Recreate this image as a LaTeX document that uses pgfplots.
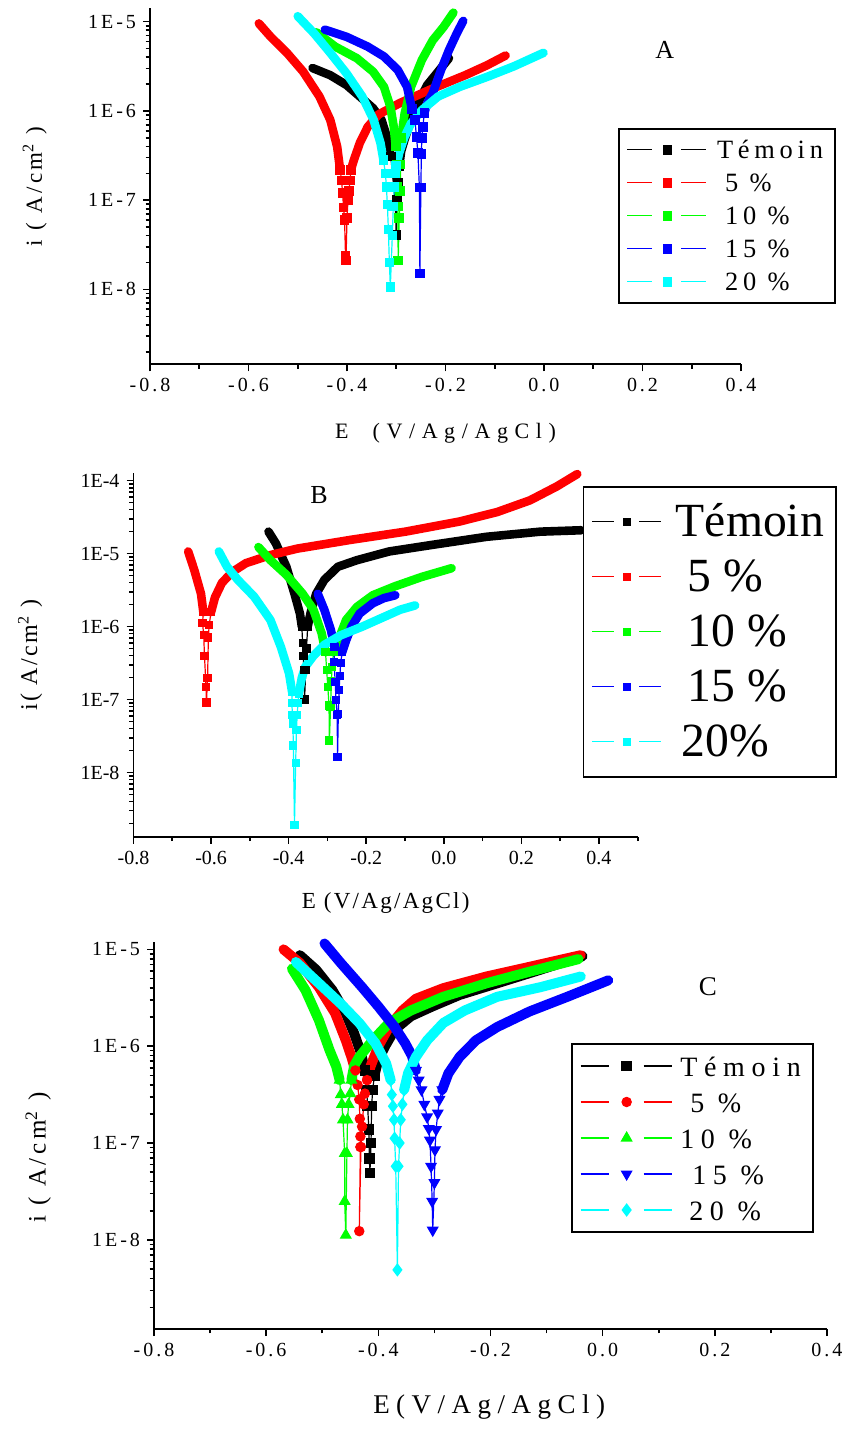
\documentclass[border=0pt]{standalone}
\usepackage{fontspec}
\setmainfont{Liberation Serif}
\newfontfamily\fA[LetterSpace=15]{Liberation Serif}
\newfontfamily\fAl[LetterSpace=18]{Liberation Serif}
\newfontfamily\fAx[LetterSpace=30]{Liberation Serif}
\newfontfamily\fB[LetterSpace=10]{Liberation Serif}
\newfontfamily\fC[LetterSpace=24]{Liberation Serif}
\newfontfamily\fCx[LetterSpace=24]{Liberation Serif}
\usepackage{pgfplots}
\pgfplotsset{compat=1.18}

\definecolor{cred}{RGB}{255,0,0}
\definecolor{cgreen}{RGB}{0,255,0}
\definecolor{cblue}{RGB}{0,0,255}
\definecolor{ccyan}{RGB}{0,255,255}

\pgfplotsset{
  bandline/.style={line width=4.3pt, line join=round, line cap=round, forget plot, mark=none},
  tailmk/.style={line width=0.6pt, mark=square*, mark size=2.1pt, mark options={solid}},
}

\begin{document}
\begin{tikzpicture}
\useasboundingbox (0pt,0pt) rectangle (421.5pt,-727.5pt);

% ---------- A ----------
\begin{axis}[scale only axis, ymode=log, clip=false, anchor=south west,
  axis lines=left, axis line style={-, line width=0.9pt},
  tick align=outside, major tick length=3.5pt, minor tick length=2.2pt,
  every tick/.style={black, line width=0.8pt},
  xtick={-0.8,-0.6,-0.4,-0.2,0,0.2,0.4},
  xticklabels={-0.8,-0.6,-0.4,-0.2,0.0,0.2,0.4},
  minor xtick={-0.7,-0.5,-0.3,-0.1,0.1,0.3},
  minor ytick={2e-9,3e-9,4e-9,5e-9,6e-9,7e-9,8e-9,9e-9,2e-8,3e-8,4e-8,5e-8,6e-8,7e-8,8e-8,9e-8,2e-7,3e-7,4e-7,5e-7,6e-7,7e-7,8e-7,9e-7,2e-6,3e-6,4e-6,5e-6,6e-6,7e-6,8e-6,9e-6},
  legend cell align=left,
  at={(75pt,-182.15pt)}, width=295.5pt, height=178pt,
  xmin=-0.8, xmax=0.4, ymin=1.45e-9, ymax=1.41e-5,
  ytick={1e-8,1e-7,1e-6,1e-5}, yticklabels={1E-8,1E-7,1E-6,1E-5},
  ticklabel style={font=\fontsize{10}{12}\selectfont\fA},
  xlabel={E\ \ (V/Ag/AgCl)},
  xlabel style={font=\fontsize{11}{13}\selectfont\fAx, at={(axis description cs:0.5,-0.193)}, anchor=center},
  ylabel={i ( A/cm\textsuperscript{2} )},
  ylabel style={font=\fontsize{11.5}{13}\selectfont\fA, at={(axis description cs:-0.195,0.5)}, anchor=center},
  legend image code/.code={\draw[mark=none] (0pt,0pt) -- (12.5pt,0pt); \draw plot coordinates {(20pt,0pt)}; \draw[mark=none] (27pt,0pt) -- (39.5pt,0pt);},
  legend style={at={(axis description cs:0.792,0.664)}, anchor=north west, draw=black, line width=0.8pt,
    font=\fontsize{13.2}{13}\selectfont\fAl, inner xsep=4pt, inner ysep=4pt, row sep=3.5pt,
    /tikz/every odd column/.append style={column sep=3pt},
    nodes={inner ysep=1pt, text height=10pt, text depth=1pt}},
]
\addplot[bandline, black] coordinates {(-0.470,3.02e-6) (-0.434,2.51e-6) (-0.401,1.95e-6) (-0.374,1.45e-6) (-0.347,1.07e-6) (-0.330,7.94e-7) (-0.319,5.13e-7) (-0.311,3.09e-7)};
\addplot[bandline, black] coordinates {(-0.294,2.4e-7) (-0.290,3.55e-7) (-0.283,4.79e-7) (-0.270,7.94e-7) (-0.253,1.32e-6) (-0.237,1.95e-6) (-0.215,2.75e-6) (-0.193,3.89e-6)};
\addplot[tailmk, black] coordinates {(-0.311,3.09e-7) (-0.308,2.0e-7) (-0.305,1.41e-7) (-0.302,8.9e-8) (-0.300,4.1e-8) (-0.298,1.0e-7) (-0.296,1.58e-7) (-0.294,2.4e-7)};
\addlegendentry{Témoin}
\addplot[bandline, cred] coordinates {(-0.579,9.55e-6) (-0.555,6.76e-6) (-0.522,4.47e-6) (-0.489,2.75e-6) (-0.456,1.45e-6) (-0.434,7.94e-7) (-0.420,3.98e-7) (-0.414,2.19e-7)};
\addplot[bandline, cred] coordinates {(-0.392,2.19e-7) (-0.386,2.82e-7) (-0.374,4.37e-7) (-0.358,6.61e-7) (-0.336,9.12e-7) (-0.292,1.23e-6) (-0.226,1.78e-6) (-0.160,2.51e-6) (-0.116,3.24e-6) (-0.078,4.17e-6)};
\addplot[tailmk, cred] coordinates {(-0.414,2.19e-7) (-0.411,1.66e-7) (-0.409,1.20e-7) (-0.407,8.3e-8) (-0.405,6.0e-8) (-0.403,2.4e-8) (-0.402,2.1e-8) (-0.400,6.3e-8) (-0.398,1.0e-7) (-0.396,1.26e-7) (-0.394,1.66e-7) (-0.392,2.19e-7)};
\addlegendentry{\hspace{4pt}5 \%}
\addplot[bandline, cgreen] coordinates {(-0.462,7.59e-6) (-0.424,5.25e-6) (-0.380,3.89e-6) (-0.347,2.75e-6) (-0.325,1.86e-6) (-0.312,1.12e-6) (-0.305,6.61e-7) (-0.301,3.98e-7)};
\addplot[bandline, cgreen] coordinates {(-0.290,5.0e-7) (-0.283,9.3e-7) (-0.270,1.86e-6) (-0.248,3.72e-6) (-0.226,6.17e-6) (-0.204,8.71e-6) (-0.184,1.26e-5)};
\addplot[tailmk, cgreen] coordinates {(-0.301,3.98e-7) (-0.299,2.5e-7) (-0.298,1.41e-7) (-0.297,8.5e-8) (-0.296,2.1e-8) (-0.294,6.3e-8) (-0.292,1.26e-7) (-0.291,2.5e-7) (-0.290,5.0e-7)};
\addlegendentry{\hspace{4pt}10 \%}
\addplot[bandline, cblue] coordinates {(-0.445,8.13e-6) (-0.401,6.76e-6) (-0.358,5.25e-6) (-0.325,4.07e-6) (-0.297,2.88e-6) (-0.278,1.86e-6) (-0.268,1.05e-6)};
\addplot[bandline, cblue] coordinates {(-0.243,9.5e-7) (-0.236,1.26e-6) (-0.226,1.58e-6) (-0.209,2.88e-6) (-0.193,4.79e-6) (-0.177,7.41e-6) (-0.164,1.02e-5)};
\addplot[tailmk, cblue] coordinates {(-0.268,1.05e-6) (-0.262,7.94e-7) (-0.259,5.13e-7) (-0.256,3.39e-7) (-0.253,1.38e-7) (-0.252,1.51e-8) (-0.250,1.38e-7) (-0.249,3.31e-7) (-0.248,5.0e-7) (-0.246,6.61e-7) (-0.243,9.5e-7)};
\addlegendentry{\hspace{4pt}15 \%}
\addplot[bandline, ccyan] coordinates {(-0.500,1.15e-5) (-0.467,7.41e-6) (-0.434,4.47e-6) (-0.401,2.63e-6) (-0.369,1.45e-6) (-0.346,7.94e-7) (-0.332,4.37e-7) (-0.326,2.82e-7)};
\addplot[bandline, ccyan] coordinates {(-0.300,2.4e-7) (-0.294,3.39e-7) (-0.283,5.13e-7) (-0.270,7.24e-7) (-0.248,1.02e-6) (-0.215,1.45e-6) (-0.171,1.86e-6) (-0.116,2.4e-6) (-0.061,3.16e-6) (-0.001,4.47e-6)};
\addplot[tailmk, ccyan] coordinates {(-0.326,2.82e-7) (-0.322,2.0e-7) (-0.320,1.41e-7) (-0.318,8.9e-8) (-0.316,4.7e-8) (-0.314,2.0e-8) (-0.312,1.07e-8) (-0.308,4.0e-8) (-0.306,8.5e-8) (-0.304,1.41e-7) (-0.302,2.0e-7) (-0.300,2.4e-7)};
\addlegendentry{\hspace{4pt}20 \%}
\node[font=\fontsize{13}{13}\selectfont] at (axis description cs:0.871,0.883) {A};
\end{axis}

% ---------- B ----------
\begin{axis}[scale only axis, ymode=log, clip=false, anchor=south west,
  axis lines=left, axis line style={-, line width=0.9pt},
  tick align=outside, major tick length=3.5pt, minor tick length=2.2pt,
  every tick/.style={black, line width=0.8pt},
  xtick={-0.8,-0.6,-0.4,-0.2,0,0.2,0.4},
  xticklabels={-0.8,-0.6,-0.4,-0.2,0.0,0.2,0.4},
  minor xtick={-0.7,-0.5,-0.3,-0.1,0.1,0.3,0.5},
  minor ytick={2e-9,3e-9,4e-9,5e-9,6e-9,7e-9,8e-9,9e-9,2e-8,3e-8,4e-8,5e-8,6e-8,7e-8,8e-8,9e-8,2e-7,3e-7,4e-7,5e-7,6e-7,7e-7,8e-7,9e-7,2e-6,3e-6,4e-6,5e-6,6e-6,7e-6,8e-6,9e-6,2e-5,3e-5,4e-5,5e-5,6e-5,7e-5,8e-5,9e-5},
  legend cell align=left,
  at={(66.75pt,-418.35pt)}, width=252.15pt, height=181.7pt,
  xmin=-0.8, xmax=0.5, ymin=1.32e-9, ymax=1.26e-4,
  ytick={1e-8,1e-7,1e-6,1e-5,1e-4}, yticklabels={1E-8,1E-7,1E-6,1E-5,1E-4},
  ticklabel style={font=\fontsize{10}{12}\selectfont},
  xlabel={E (V/Ag/AgCl)},
  xlabel style={font=\fontsize{11.5}{13}\selectfont\fB, at={(axis description cs:0.5,-0.182)}, anchor=center},
  ylabel={i( A/cm\textsuperscript{2} )},
  ylabel style={font=\fontsize{12}{13}\selectfont\fB, at={(axis description cs:-0.205,0.5)}, anchor=center},
  tailmk/.append style={mark size=1.75pt},
  legend image code/.code={\draw[mark=none] (0pt,0pt) -- (11pt,0pt); \draw plot coordinates {(17.5pt,0pt)}; \draw[mark=none] (23.5pt,0pt) -- (34.5pt,0pt);},
  legend style={at={(axis description cs:0.891,0.965)}, anchor=north west, draw=black, line width=0.8pt,
    font=\fontsize{23.8}{23}\selectfont, inner xsep=4pt, inner ysep=8pt, row sep=8.5pt,
    /tikz/every odd column/.append style={column sep=5pt},
    nodes={inner ysep=1pt, text height=16pt, text depth=1pt}},
]
\addplot[bandline, black] coordinates {(-0.452,2.0e-5) (-0.433,1.38e-5) (-0.406,6.61e-6) (-0.385,2.82e-6) (-0.371,1.51e-6) (-0.366,1.0e-6)};
\addplot[bandline, black] coordinates {(-0.351,1.0e-6) (-0.343,1.58e-6) (-0.329,2.82e-6) (-0.308,4.37e-6) (-0.273,6.61e-6) (-0.224,8.13e-6) (-0.141,1.07e-5) (-0.029,1.32e-5) (0.110,1.70e-5) (0.249,2.0e-5) (0.354,2.09e-5)};
\addplot[tailmk, black] coordinates {(-0.366,1.0e-6) (-0.364,5.9e-7) (-0.362,3.98e-7) (-0.361,2.51e-7) (-0.359,1.0e-7) (-0.356,2.51e-7) (-0.354,5.0e-7) (-0.351,1.0e-6)};
\addlegendentry{Témoin}
\addplot[bandline, cred] coordinates {(-0.659,1.07e-5) (-0.643,5.89e-6) (-0.626,2.82e-6) (-0.620,1.58e-6)};
\addplot[bandline, cred] coordinates {(-0.600,1.58e-6) (-0.590,2.51e-6) (-0.572,3.98e-6) (-0.545,5.62e-6) (-0.510,7.41e-6) (-0.447,9.55e-6) (-0.378,1.17e-5) (-0.238,1.55e-5) (-0.099,2.0e-5) (0.040,2.75e-5) (0.138,3.72e-5) (0.222,5.37e-5) (0.291,8.32e-5) (0.344,1.23e-4)};
\addplot[tailmk, cred] coordinates {(-0.620,1.58e-6) (-0.622,1.12e-6) (-0.619,7.59e-7) (-0.617,3.98e-7) (-0.613,1.48e-7) (-0.612,9.1e-8) (-0.609,2.0e-7) (-0.607,7.08e-7) (-0.605,1.05e-6) (-0.600,1.58e-6)};
\addlegendentry{\hspace{6pt}5 \%}
\addplot[bandline, cgreen] coordinates {(-0.478,1.23e-5) (-0.447,8.13e-6) (-0.406,5.13e-6) (-0.364,2.82e-6) (-0.336,1.70e-6) (-0.315,8.13e-7) (-0.305,4.47e-7)};
\addplot[bandline, cgreen] coordinates {(-0.284,4.47e-7) (-0.273,6.31e-7) (-0.252,1.23e-6) (-0.224,1.86e-6) (-0.183,2.69e-6) (-0.127,3.55e-6) (-0.057,4.79e-6) (0.020,6.31e-6)};
\addplot[tailmk, cgreen] coordinates {(-0.305,4.47e-7) (-0.302,2.51e-7) (-0.299,1.48e-7) (-0.296,8.3e-8) (-0.295,2.75e-8) (-0.292,7.9e-8) (-0.290,1.78e-7) (-0.288,2.82e-7) (-0.284,4.47e-7)};
\addlegendentry{\hspace{6pt}10 \%}
\addplot[bandline, cblue] coordinates {(-0.325,2.82e-6) (-0.308,1.70e-6) (-0.291,8.91e-7) (-0.282,5.25e-7)};
\addplot[bandline, cblue] coordinates {(-0.262,4.47e-7) (-0.252,6.46e-7) (-0.238,1.0e-6) (-0.217,1.51e-6) (-0.183,2.09e-6) (-0.155,2.45e-6) (-0.125,2.69e-6)};
\addplot[tailmk, cblue] coordinates {(-0.282,5.25e-7) (-0.283,3.24e-7) (-0.280,1.74e-7) (-0.278,9.8e-8) (-0.275,6.2e-8) (-0.274,1.62e-8) (-0.272,6.3e-8) (-0.270,1.35e-7) (-0.268,2.09e-7) (-0.266,3.16e-7) (-0.262,4.47e-7)};
\addlegendentry{\hspace{6pt}15 \%}
\addplot[bandline, ccyan] coordinates {(-0.580,1.07e-5) (-0.559,6.61e-6) (-0.531,4.37e-6) (-0.489,2.57e-6) (-0.447,1.23e-6) (-0.420,5.25e-7) (-0.399,2.29e-7) (-0.391,1.26e-7)};
\addplot[bandline, ccyan] coordinates {(-0.374,1.2e-7) (-0.366,2.0e-7) (-0.357,2.82e-7) (-0.336,3.98e-7) (-0.308,5.62e-7) (-0.266,7.59e-7) (-0.210,1.0e-6) (-0.155,1.35e-6) (-0.113,1.70e-6) (-0.074,1.95e-6)};
\addplot[tailmk, ccyan] coordinates {(-0.391,1.26e-7) (-0.392,8.9e-8) (-0.390,6.2e-8) (-0.389,4.7e-8) (-0.388,2.34e-8) (-0.385,1.9e-9) (-0.382,1.35e-8) (-0.380,3.8e-8) (-0.378,6.2e-8) (-0.376,8.9e-8) (-0.374,1.2e-7)};
\addlegendentry{\hspace{3pt}20\%}
\node[font=\fontsize{13}{13}\selectfont] at (axis description cs:0.368,0.940) {B};
\end{axis}

% ---------- C ----------
\begin{axis}[scale only axis, ymode=log, clip=false, anchor=south west,
  axis lines=left, axis line style={-, line width=0.9pt},
  tick align=outside, major tick length=3.5pt, minor tick length=2.2pt,
  every tick/.style={black, line width=0.8pt},
  xtick={-0.8,-0.6,-0.4,-0.2,0,0.2,0.4},
  xticklabels={-0.8,-0.6,-0.4,-0.2,0.0,0.2,0.4},
  minor xtick={-0.7,-0.5,-0.3,-0.1,0.1,0.3},
  minor ytick={2e-9,3e-9,4e-9,5e-9,6e-9,7e-9,8e-9,9e-9,2e-8,3e-8,4e-8,5e-8,6e-8,7e-8,8e-8,9e-8,2e-7,3e-7,4e-7,5e-7,6e-7,7e-7,8e-7,9e-7,2e-6,3e-6,4e-6,5e-6,6e-6,7e-6,8e-6,9e-6},
  legend cell align=left,
  at={(77pt,-664.5pt)}, width=336.5pt, height=193.65pt,
  xmin=-0.8, xmax=0.4, ymin=1.2e-9, ymax=1.2e-5,
  ytick={1e-8,1e-7,1e-6,1e-5}, yticklabels={1E-8,1E-7,1E-6,1E-5},
  ticklabel style={font=\fontsize{10}{12}\selectfont\fA},
  xlabel={E(V/Ag/AgCl)},
  xlabel style={font=\fontsize{13.5}{15}\selectfont\fCx, at={(axis description cs:0.498,-0.201)}, anchor=center},
  ylabel={i ( A/cm\textsuperscript{2} )},
  ylabel style={font=\fontsize{12.5}{14}\selectfont\fA, at={(axis description cs:-0.172,0.444)}, anchor=center},
  bandline/.append style={line width=5pt},
  legend image code/.code={\draw[mark=none] (0pt,0pt) -- (14pt,0pt); \draw plot coordinates {(23pt,0pt)}; \draw[mark=none] (31.5pt,0pt) -- (45.5pt,0pt);},
  legend style={at={(axis description cs:0.620,0.738)}, anchor=north west, draw=black, line width=0.8pt,
    font=\fontsize{14}{14}\selectfont\fC, inner xsep=4pt, inner ysep=4pt, row sep=4pt,
    /tikz/every odd column/.append style={column sep=2pt},
    nodes={inner ysep=1pt, text height=11pt, text depth=1pt}},
]
\addplot[bandline, black] coordinates {(-0.540,8.71e-6) (-0.511,6.17e-6) (-0.482,3.80e-6) (-0.458,2.19e-6) (-0.443,1.35e-6) (-0.431,8.51e-7) (-0.424,5.62e-7)};
\addplot[bandline, black] coordinates {(-0.407,5.0e-7) (-0.400,7.24e-7) (-0.388,1.0e-6) (-0.371,1.48e-6) (-0.342,2.04e-6) (-0.304,2.57e-6) (-0.255,3.39e-6) (-0.188,4.47e-6) (-0.111,6.17e-6) (-0.036,8.51e-6)};
\addplot[tailmk, black, mark size=2.3pt] coordinates {(-0.424,5.62e-7) (-0.421,3.55e-7) (-0.419,2.40e-7) (-0.417,1.38e-7) (-0.416,6.9e-8) (-0.415,4.9e-8) (-0.413,1.0e-7) (-0.412,2.40e-7) (-0.410,3.55e-7) (-0.407,5.0e-7)};
\addlegendentry{Témoin}
\addplot[bandline, cred] coordinates {(-0.569,1.0e-5) (-0.540,7.24e-6) (-0.506,4.07e-6) (-0.477,2.19e-6) (-0.458,1.15e-6) (-0.448,7.76e-7) (-0.441,5.62e-7)};
\addplot[bandline, cred] coordinates {(-0.420,4.47e-7) (-0.414,6.17e-7) (-0.400,1.0e-6) (-0.381,1.58e-6) (-0.357,2.34e-6) (-0.333,3.09e-6) (-0.284,3.98e-6) (-0.207,5.25e-6) (-0.130,6.61e-6) (-0.039,8.71e-6)};
\addplot[tailmk, cred, mark=*, mark size=2.3pt] coordinates {(-0.441,5.62e-7) (-0.437,3.98e-7) (-0.434,2.82e-7) (-0.433,1.78e-7) (-0.432,1.17e-7) (-0.432,9.1e-8) (-0.434,1.23e-8) (-0.431,9.1e-8) (-0.429,1.48e-7) (-0.426,2.51e-7) (-0.424,3.24e-7) (-0.420,4.47e-7)};
\addlegendentry{\hspace{5pt}5 \%}
\addplot[bandline, cgreen] coordinates {(-0.554,6.31e-6) (-0.530,3.80e-6) (-0.506,1.86e-6) (-0.487,9.12e-7) (-0.475,6.17e-7) (-0.469,4.47e-7)};
\addplot[bandline, cgreen] coordinates {(-0.448,4.47e-7) (-0.443,6.31e-7) (-0.434,7.76e-7) (-0.410,1.15e-6) (-0.381,1.74e-6) (-0.342,2.34e-6) (-0.284,3.24e-6) (-0.207,4.47e-6) (-0.130,5.89e-6) (-0.043,7.94e-6)};
\addplot[tailmk, cgreen, mark=triangle*, mark size=2.9pt] coordinates {(-0.469,4.47e-7) (-0.467,3.16e-7) (-0.465,2.51e-7) (-0.463,1.74e-7) (-0.460,7.8e-8) (-0.460,2.5e-8) (-0.458,1.12e-8) (-0.456,7.8e-8) (-0.455,1.74e-7) (-0.453,2.51e-7) (-0.450,3.24e-7) (-0.448,4.47e-7)};
\addlegendentry{10 \%}
\addplot[bandline, cblue] coordinates {(-0.496,1.15e-5) (-0.467,7.24e-6) (-0.429,4.07e-6) (-0.400,2.57e-6) (-0.371,1.58e-6) (-0.352,1.07e-6) (-0.340,7.94e-7) (-0.333,5.62e-7)};
\addplot[bandline, cblue] coordinates {(-0.286,3.55e-7) (-0.275,5.25e-7) (-0.255,7.76e-7) (-0.226,1.15e-6) (-0.188,1.58e-6) (-0.130,2.29e-6) (-0.063,3.24e-6) (0.010,4.79e-6)};
\addplot[tailmk, cblue, mark=triangle*, mark size=2.9pt, mark options={rotate=180}] coordinates {(-0.333,5.62e-7) (-0.328,4.47e-7) (-0.323,3.55e-7) (-0.318,2.51e-7) (-0.313,1.86e-7) (-0.310,1.41e-7) (-0.308,1.07e-7) (-0.306,5.75e-8) (-0.304,2.5e-8) (-0.303,1.26e-8) (-0.300,3.9e-8) (-0.299,8.5e-8) (-0.297,1.38e-7) (-0.294,2.04e-7) (-0.291,2.82e-7) (-0.286,3.55e-7)};
\addlegendentry{\hspace{6pt}15 \%}
\addplot[bandline, ccyan] coordinates {(-0.547,7.41e-6) (-0.506,4.47e-6) (-0.467,2.75e-6) (-0.434,1.74e-6) (-0.405,1.07e-6) (-0.386,6.61e-7) (-0.378,4.47e-7)};
\addplot[bandline, ccyan] coordinates {(-0.354,3.55e-7) (-0.347,5.25e-7) (-0.333,7.76e-7) (-0.313,1.15e-6) (-0.284,1.74e-6) (-0.246,2.34e-6) (-0.188,3.24e-6) (-0.111,4.07e-6) (-0.039,5.25e-6)};
\addplot[tailmk, ccyan, mark=diamond*, mark size=2.9pt] coordinates {(-0.378,4.47e-7) (-0.376,3.16e-7) (-0.374,2.40e-7) (-0.372,1.74e-7) (-0.371,1.12e-7) (-0.369,5.75e-8) (-0.366,4.9e-9) (-0.364,5.75e-8) (-0.362,1.0e-7) (-0.360,1.74e-7) (-0.357,2.51e-7) (-0.354,3.55e-7)};
\addlegendentry{\hspace{4.5pt}20 \%}
\node[font=\fontsize{13.5}{14}\selectfont] at (axis description cs:0.823,0.883) {C};
\end{axis}
\end{tikzpicture}
\end{document}
